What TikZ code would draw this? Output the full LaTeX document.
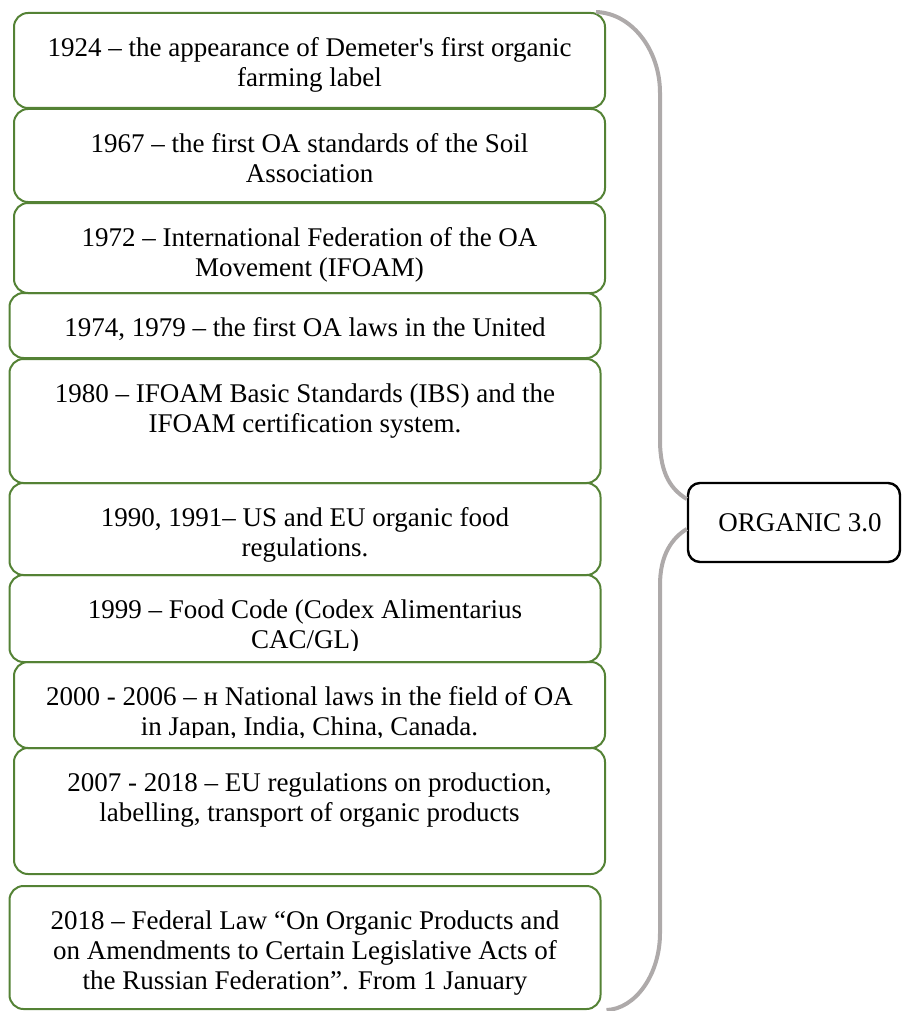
\documentclass[tikz,border=0pt]{standalone}
\usepackage{fontspec}
\setmainfont{Liberation Serif}
\usetikzlibrary{positioning}
\definecolor{evgreen}{HTML}{548235}
\definecolor{bracegray}{HTML}{AEAAAA}
\newcommand{\evfont}{\fontsize{13.5}{15}\selectfont}

\begin{document}
\begin{tikzpicture}[x=0.5pt,y=-0.5pt,
  evbox/.style={draw=evgreen,line width=1pt,rounded corners=7pt,minimum width=295.5pt,inner sep=0pt},
  evtext/.style={align=center,inner sep=0pt,font=\evfont},
  orgbox/.style={draw=black,line width=1.2pt,rounded corners=6pt,minimum width=106pt,minimum height=39.5pt,inner sep=0pt,font=\evfont},
  brace/.style={draw=bracegray,line width=2pt}]
\useasboundingbox (0,0) rectangle (903,1011);

% event boxes
\node[evbox,minimum height=47.5pt] (b1) at (309.5,60.5) {};
\node[evbox,minimum height=46.5pt] (b2) at (309.5,155.5) {};
\node[evbox,minimum height=45pt] (b3) at (309.5,248) {};
\node[evbox,minimum height=32.5pt] (b4) at (305,325.5) {};
\node[evbox,minimum height=62pt] (b5) at (305,421) {};
\node[evbox,minimum height=46pt] (b6) at (305,529) {};
\node[evbox,minimum height=43.5pt] (b7) at (305,618.5) {};
\node[evbox,minimum height=43pt] (b8) at (309.5,705) {};
\node[evbox,minimum height=63pt] (b9) at (309.5,811) {};
\node[evbox,minimum height=61.5pt] (b10) at (305,947.5) {};

% texts
\node[evtext,below=11.75pt of b1.north] (t1) {\strut 1924 -- the appearance of Demeter\textquotesingle s first organic\\farming label};
\node[evtext,below=11.75pt of b2.north] (t2) {\strut 1967 -- the first OA standards of the Soil\\Association};
\node[evtext,below=11.75pt of b3.north] (t3) {\strut 1972 -- International Federation of the OA\\Movement (IFOAM)};
\node[evtext,below=11.75pt of b4.north] (t4) {\strut 1974, 1979 -- the first OA laws in the United};
\node[evtext,below=11.75pt of b5.north] (t5) {\strut 1980 -- IFOAM Basic Standards (IBS) and the\\IFOAM certification system.};
\node[evtext,below=11.75pt of b6.north] (t6) {\strut 1990, 1991-- US and EU organic food\\regulations.};
\begin{scope}
\clip (10,575) rectangle (600,650);
\node[evtext,below=11.75pt of b7.north] (t7) {\strut 1999 -- Food Code (Codex Alimentarius\\CAC/GL)};
\end{scope}
\begin{scope}
\clip (14,662) rectangle (605,737);
\node[evtext,below=11.75pt of b8.north] (t8) {\strut 2000 - 2006 -- н National laws in the field of OA\\in Japan, India, China, Canada.};
\end{scope}
\node[evtext,below=11.75pt of b9.north] (t9) {\strut 2007 - 2018 -- EU regulations on production,\\labelling, transport of organic products};
\node[evtext,below=11.75pt of b10.north] (t10) {\strut 2018 -- Federal Law “On Organic Products and\\on Amendments to Certain Legislative Acts of\\the Russian Federation”. From 1 January};

\node[orgbox] (org) at (794,522.5) {\hspace*{6pt}ORGANIC 3.0};

% brace
\draw[brace] ([xshift=-5pt]b1.north east) .. controls (631,13) and (660,49) .. (660,93)
  -- (660,440) .. controls (660,475) and (672,490) .. ([yshift=11.75pt]org.west);
\draw[brace] ([yshift=-3.25pt]org.west) .. controls (672,538) and (660,555) .. (660,585)
  -- (660,933) .. controls (660,975) and (635,1009) .. ([xshift=2.5pt]b10.south east);
\end{tikzpicture}
\end{document}
